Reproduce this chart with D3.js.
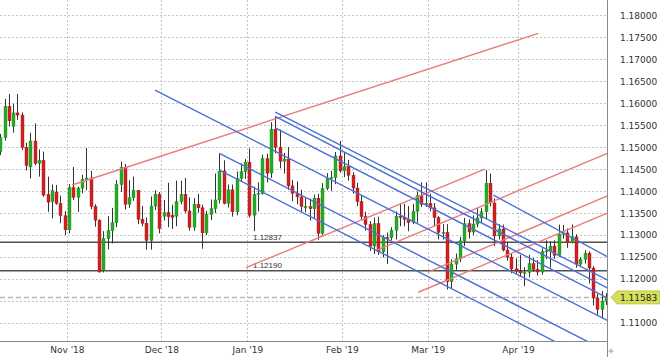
<!DOCTYPE html>
<html><head><meta charset="utf-8">
<script src="https://cdn.jsdelivr.net/npm/d3@7"></script>
<style>html,body{margin:0;padding:0;background:#fff;}svg{display:block;}</style>
</head><body>
<svg id="chart" width="660" height="357"></svg>
<script>
// ---------------- DATA ----------------
const dates = [
"2018-10-10","2018-10-11","2018-10-12","2018-10-15","2018-10-16","2018-10-17","2018-10-18","2018-10-19","2018-10-22","2018-10-23","2018-10-24","2018-10-25","2018-10-26","2018-10-29","2018-10-30","2018-10-31",
"2018-11-01","2018-11-02","2018-11-05","2018-11-06","2018-11-07","2018-11-08","2018-11-09","2018-11-12","2018-11-13","2018-11-14","2018-11-15","2018-11-16","2018-11-19","2018-11-20","2018-11-21","2018-11-22","2018-11-23","2018-11-26","2018-11-27","2018-11-28","2018-11-29","2018-11-30",
"2018-12-03","2018-12-04","2018-12-05","2018-12-06","2018-12-07","2018-12-10","2018-12-11","2018-12-12","2018-12-13","2018-12-14","2018-12-17","2018-12-18","2018-12-19","2018-12-20","2018-12-21","2018-12-24","2018-12-26","2018-12-27","2018-12-28","2018-12-31",
"2019-01-02","2019-01-03","2019-01-04","2019-01-07","2019-01-08","2019-01-09","2019-01-10","2019-01-11","2019-01-14","2019-01-15","2019-01-16","2019-01-17","2019-01-18","2019-01-21","2019-01-22","2019-01-23","2019-01-24","2019-01-25","2019-01-28","2019-01-29","2019-01-30","2019-01-31",
"2019-02-01","2019-02-04","2019-02-05","2019-02-06","2019-02-07","2019-02-08","2019-02-11","2019-02-12","2019-02-13","2019-02-14","2019-02-15","2019-02-18","2019-02-19","2019-02-20","2019-02-21","2019-02-22","2019-02-25","2019-02-26","2019-02-27","2019-02-28",
"2019-03-01","2019-03-04","2019-03-05","2019-03-06","2019-03-07","2019-03-08","2019-03-11","2019-03-12","2019-03-13","2019-03-14","2019-03-15","2019-03-18","2019-03-19","2019-03-20","2019-03-21","2019-03-22","2019-03-25","2019-03-26","2019-03-27","2019-03-28","2019-03-29",
"2019-04-01","2019-04-02","2019-04-03","2019-04-04","2019-04-05","2019-04-08","2019-04-09","2019-04-10","2019-04-11","2019-04-12","2019-04-15","2019-04-16","2019-04-17","2019-04-18","2019-04-19","2019-04-22","2019-04-23","2019-04-24","2019-04-25","2019-04-26","2019-04-29"];

const open = [
1.1490,1.1522,1.1593,1.1547,1.1578,1.1573,1.1500,1.1455,1.1514,1.1463,1.1470,1.1393,1.1376,1.1398,1.1372,1.1344,
1.1312,1.1408,1.1386,1.1407,1.1427,1.1430,1.1365,1.1334,1.1220,1.1292,1.1310,1.1328,1.1415,1.1454,1.1370,1.1385,1.1402,1.1336,1.1327,1.1288,1.1366,1.1393,
1.1343,1.1351,1.1345,1.1343,1.1376,1.1393,1.1355,1.1318,1.1370,1.1362,1.1305,1.1347,1.1360,1.1380,1.1446,1.1372,1.1403,1.1353,1.1429,1.1444,
1.1466,1.1345,1.1393,1.1395,1.1474,1.1441,1.1541,1.1500,1.1468,1.1473,1.1412,1.1395,1.1387,1.1362,1.1365,1.1360,1.1384,1.1304,1.1406,1.1429,1.1431,1.1480,
1.1446,1.1456,1.1436,1.1407,1.1376,1.1342,1.1324,1.1275,1.1326,1.1262,1.1295,1.1294,1.1311,1.1343,1.1340,1.1336,1.1329,1.1354,1.1390,1.1370,
1.1372,1.1362,1.1340,1.1306,1.1306,1.1194,1.1234,1.1246,1.1287,1.1326,1.1307,1.1325,1.1339,1.1353,1.1418,1.1373,1.1298,1.1314,1.1266,1.1250,1.1223,
1.1218,1.1214,1.1215,1.1235,1.1222,1.1216,1.1263,1.1264,1.1275,1.1254,1.1302,1.1305,1.1283,1.1296,1.1234,1.1245,1.1259,1.1225,1.1157,1.1131,1.1150];

const high = [
1.1530,1.1610,1.1621,1.1599,1.1621,1.1579,1.1510,1.1533,1.1554,1.1495,1.1490,1.1433,1.1415,1.1414,1.1390,1.1355,
1.1416,1.1455,1.1410,1.1437,1.1498,1.1446,1.1370,1.1336,1.1309,1.1343,1.1362,1.1425,1.1467,1.1462,1.1425,1.1433,1.1402,1.1366,1.1340,1.1388,1.1402,1.1398,
1.1380,1.1419,1.1369,1.1424,1.1424,1.1430,1.1386,1.1384,1.1394,1.1369,1.1355,1.1381,1.1440,1.1486,1.1470,1.1415,1.1415,1.1445,1.1463,1.1473,
1.1497,1.1410,1.1420,1.1483,1.1485,1.1557,1.1570,1.1540,1.1487,1.1500,1.1425,1.1422,1.1403,1.1384,1.1383,1.1392,1.1394,1.1418,1.1441,1.1446,1.1489,1.1514,
1.1488,1.1471,1.1443,1.1419,1.1390,1.1353,1.1332,1.1340,1.1342,1.1300,1.1306,1.1318,1.1354,1.1372,1.1371,1.1366,1.1371,1.1399,1.1420,1.1420,
1.1394,1.1373,1.1343,1.1325,1.1325,1.1245,1.1258,1.1296,1.1339,1.1336,1.1345,1.1362,1.1362,1.1448,1.1440,1.1383,1.1325,1.1324,1.1285,1.1258,1.1247,
1.1255,1.1227,1.1255,1.1248,1.1243,1.1270,1.1288,1.1286,1.1288,1.1324,1.1323,1.1315,1.1324,1.1302,1.1250,1.1266,1.1263,1.1229,1.1166,1.1173,1.1168];

const low = [
1.1482,1.1515,1.1547,1.1533,1.1562,1.1494,1.1447,1.1429,1.1459,1.1433,1.1387,1.1353,1.1338,1.1369,1.1327,1.1300,
1.1304,1.1380,1.1353,1.1395,1.1402,1.1359,1.1319,1.1215,1.1215,1.1267,1.1281,1.1318,1.1398,1.1358,1.1362,1.1378,1.1325,1.1320,1.1267,1.1267,1.1357,1.1304,
1.1333,1.1318,1.1314,1.1320,1.1370,1.1350,1.1310,1.1310,1.1351,1.1269,1.1300,1.1334,1.1350,1.1372,1.1370,1.1363,1.1342,1.1345,1.1421,1.1428,
1.1340,1.1309,1.1354,1.1392,1.1420,1.1430,1.1486,1.1452,1.1440,1.1403,1.1377,1.1370,1.1353,1.1352,1.1333,1.1339,1.1289,1.1299,1.1402,1.1400,1.1416,1.1442,
1.1432,1.1424,1.1394,1.1366,1.1334,1.1310,1.1264,1.1257,1.1255,1.1249,1.1234,1.1288,1.1290,1.1320,1.1320,1.1309,1.1325,1.1328,1.1364,1.1364,
1.1354,1.1320,1.1290,1.1290,1.1176,1.1178,1.1221,1.1239,1.1275,1.1292,1.1300,1.1318,1.1330,1.1337,1.1365,1.1275,1.1290,1.1263,1.1242,1.1213,1.1212,
1.1205,1.1184,1.1204,1.1216,1.1208,1.1210,1.1245,1.1226,1.1246,1.1250,1.1292,1.1271,1.1281,1.1226,1.1229,1.1235,1.1190,1.1140,1.1118,1.1111,1.1141];

const close = [
1.1522,1.1593,1.1560,1.1578,1.1573,1.1500,1.1458,1.1514,1.1463,1.1470,1.1391,1.1375,1.1401,1.1372,1.1344,1.1312,
1.1408,1.1386,1.1407,1.1427,1.1430,1.1365,1.1334,1.1216,1.1292,1.1310,1.1328,1.1415,1.1454,1.1370,1.1385,1.1402,1.1336,1.1327,1.1288,1.1366,1.1393,1.1315,
1.1351,1.1342,1.1340,1.1376,1.1393,1.1355,1.1318,1.1370,1.1362,1.1305,1.1347,1.1360,1.1380,1.1446,1.1372,1.1403,1.1353,1.1429,1.1444,1.1466,
1.1345,1.1393,1.1395,1.1474,1.1441,1.1541,1.1500,1.1468,1.1473,1.1412,1.1395,1.1387,1.1365,1.1365,1.1360,1.1384,1.1304,1.1406,1.1429,1.1431,1.1480,1.1446,
1.1456,1.1436,1.1407,1.1376,1.1342,1.1324,1.1275,1.1326,1.1262,1.1295,1.1294,1.1311,1.1343,1.1340,1.1336,1.1329,1.1354,1.1390,1.1370,1.1372,
1.1362,1.1340,1.1306,1.1306,1.1194,1.1234,1.1246,1.1287,1.1326,1.1307,1.1325,1.1339,1.1353,1.1418,1.1373,1.1298,1.1314,1.1266,1.1250,1.1223,1.1218,
1.1214,1.1215,1.1235,1.1222,1.1216,1.1263,1.1264,1.1275,1.1254,1.1302,1.1305,1.1283,1.1296,1.1234,1.1245,1.1259,1.1225,1.1157,1.1131,1.1150,1.11583];

const priceTicks = [1.18,1.175,1.17,1.165,1.16,1.155,1.15,1.145,1.14,1.135,1.13,1.125,1.12,1.115,1.11];
const monthLabels = ["Nov '18","Dec '18","Jan '19","Feb '19","Mar '19","Apr '19"];

// horizontal support levels
const levels = [1.12837, 1.12190];
const lastPrice = 1.11583;

// trend lines: [startBar, startPrice, endBar, endPrice]
const redLines = [
  [16.7, 1.1414, 125.25, 1.1759],
  [57.2, 1.1226, 112.8, 1.1450],
  [87.7, 1.1266, 141.3, 1.1486],
  [99.6, 1.1216, 141.3, 1.1389],
  [97.3, 1.1170, 141.3, 1.1350]
];
const blueLines = [
  [36.0, 1.1630, 141.3, 1.1106],
  [64.0, 1.1580, 141.3, 1.1198],
  [64.0, 1.1570, 141.3, 1.1180],
  [64.0, 1.1544, 141.3, 1.1157],
  [51.0, 1.1486, 141.3, 1.1035],
  [51.0, 1.1448, 141.3, 1.0997],
  [114.8, 1.1391, 141.3, 1.1251]
];

// ---------------- DRAW ----------------
const PR = 607, PB = 341;
const svg = d3.select("#chart");
const x = d3.scaleLinear().domain([0, dates.length - 1]).range([0.3, 606]);
const y = d3.scaleLinear().domain([1.10591, 1.18348]).range([PB, 0]);

svg.append("defs").append("clipPath").attr("id","plot")
  .append("rect").attr("x",0).attr("y",0).attr("width",PR).attr("height",PB);

// month start indices
const monthStarts = [];
for (let i = 1; i < dates.length; i++) {
  if (dates[i].slice(0,7) !== dates[i-1].slice(0,7)) monthStarts.push(i);
}
const monthTickPos = monthStarts.map(i => i - 0.5);

// grid
const grid = svg.append("g");
grid.selectAll("line.h").data(priceTicks).join("line")
  .attr("x1",0).attr("x2",PR).attr("y1",d=>Math.round(y(d))+0.5).attr("y2",d=>Math.round(y(d))+0.5)
  .attr("stroke","#c4c4c4").attr("stroke-width",1).attr("stroke-dasharray","2,2");
grid.selectAll("line.v").data(monthTickPos).join("line")
  .attr("y1",0).attr("y2",PB).attr("x1",d=>Math.round(x(d))+0.5).attr("x2",d=>Math.round(x(d))+0.5)
  .attr("stroke","#c4c4c4").attr("stroke-width",1).attr("stroke-dasharray","2,2");

// current price dashed line
svg.append("line").attr("x1",0).attr("x2",PR).attr("y1",y(lastPrice)).attr("y2",y(lastPrice))
  .attr("stroke","#b8b8b8").attr("stroke-width",1.5).attr("stroke-dasharray","5,3");

// horizontal levels
svg.selectAll("line.lvl").data(levels).join("line")
  .attr("x1",0).attr("x2",PR).attr("y1",d=>y(d)).attr("y2",d=>y(d))
  .attr("stroke","#505050").attr("stroke-width",1.5);
svg.selectAll("text.lvl").data(levels).join("text")
  .attr("x", x(58) + 3.5).attr("y", d => y(d) - 2.5)
  .attr("font-family","Liberation Sans, Arial, sans-serif").attr("font-size",8)
  .attr("fill","#333").text(d => d.toFixed(5));

// candles
const cg = svg.append("g").attr("clip-path","url(#plot)");
const idx = d3.range(dates.length);
const up = i => close[i] >= open[i];
cg.selectAll("line.wick").data(idx).join("line")
  .attr("x1",i=>Math.round(x(i))+0.5).attr("x2",i=>Math.round(x(i))+0.5)
  .attr("y1",i=>y(high[i])).attr("y2",i=>y(low[i]))
  .attr("stroke","#333").attr("stroke-width",1);
cg.selectAll("rect.body").data(idx).join("rect")
  .attr("x",i=>Math.round(x(i))-1).attr("width",3)
  .attr("y",i=>y(Math.max(open[i],close[i])))
  .attr("height",i=>Math.max(1, Math.abs(y(open[i])-y(close[i]))))
  .attr("fill",i=>up(i)?"#24ab24":"#d31f1f")
  .attr("stroke",i=>up(i)?"#1b8a1b":"#a81414").attr("stroke-width",0.4);

// trend lines
const tg = svg.append("g").attr("clip-path","url(#plot)");
tg.selectAll("line.red").data(redLines).join("line")
  .attr("x1",d=>x(d[0])).attr("y1",d=>y(d[1])).attr("x2",d=>x(d[2])).attr("y2",d=>y(d[3]))
  .attr("stroke","#ea7c7c").attr("stroke-width",1.4);
tg.selectAll("line.blue").data(blueLines).join("line")
  .attr("x1",d=>x(d[0])).attr("y1",d=>y(d[1])).attr("x2",d=>x(d[2])).attr("y2",d=>y(d[3]))
  .attr("stroke","#4a6fd6").attr("stroke-width",1.4);

// axes frame
svg.append("line").attr("x1",PR+0.5).attr("x2",PR+0.5).attr("y1",0).attr("y2",357).attr("stroke","#8a8a8a");
svg.append("line").attr("x1",0).attr("x2",PR).attr("y1",PB+0.5).attr("y2",PB+0.5).attr("stroke","#8a8a8a");

// y axis labels (the one hidden under the last-price tag is not drawn)
const ly = y(lastPrice);
const visibleTicks = priceTicks.filter(t => Math.abs(y(t) - ly) > 9);
const yAxis = d3.axisRight(y).tickValues(visibleTicks).tickSize(0).tickPadding(13).tickFormat(d3.format(".5f"));
const ya = svg.append("g").attr("transform",`translate(${PR},0)`).call(yAxis);
ya.select(".domain").remove();
ya.selectAll("text").attr("font-family","DejaVu Sans, Verdana, sans-serif").attr("font-size",9).attr("fill","#333");

// x axis labels
const xAxis = d3.axisBottom(x).tickValues(monthTickPos).tickSize(0).tickPadding(6)
  .tickFormat((d,i) => monthLabels[i]);
const xa = svg.append("g").attr("transform",`translate(0,${PB})`).call(xAxis);
xa.select(".domain").remove();
xa.selectAll("text").attr("font-family","DejaVu Sans, Verdana, sans-serif").attr("font-size",9).attr("fill","#333");

// last price tag
svg.append("path")
  .attr("d",`M${PR+4},${ly} L${PR+10},${ly-6.5} L660,${ly-6.5} L660,${ly+6.5} L${PR+10},${ly+6.5} Z`)
  .attr("fill","#d6df5c").attr("stroke","#b9c23a").attr("stroke-width",0.8);
svg.append("text").attr("x",620).attr("y",ly+3.3)
  .attr("font-family","DejaVu Sans, Verdana, sans-serif").attr("font-size",9).attr("fill","#222")
  .text(lastPrice.toFixed(5));

// small crosshair icon
const cx = 611, cyy = 351;
svg.append("line").attr("x1",cx-2.5).attr("x2",cx+2.5).attr("y1",cyy).attr("y2",cyy).attr("stroke","#999");
svg.append("line").attr("x1",cx).attr("x2",cx).attr("y1",cyy-2.5).attr("y2",cyy+2.5).attr("stroke","#999");
</script>
</body></html>
